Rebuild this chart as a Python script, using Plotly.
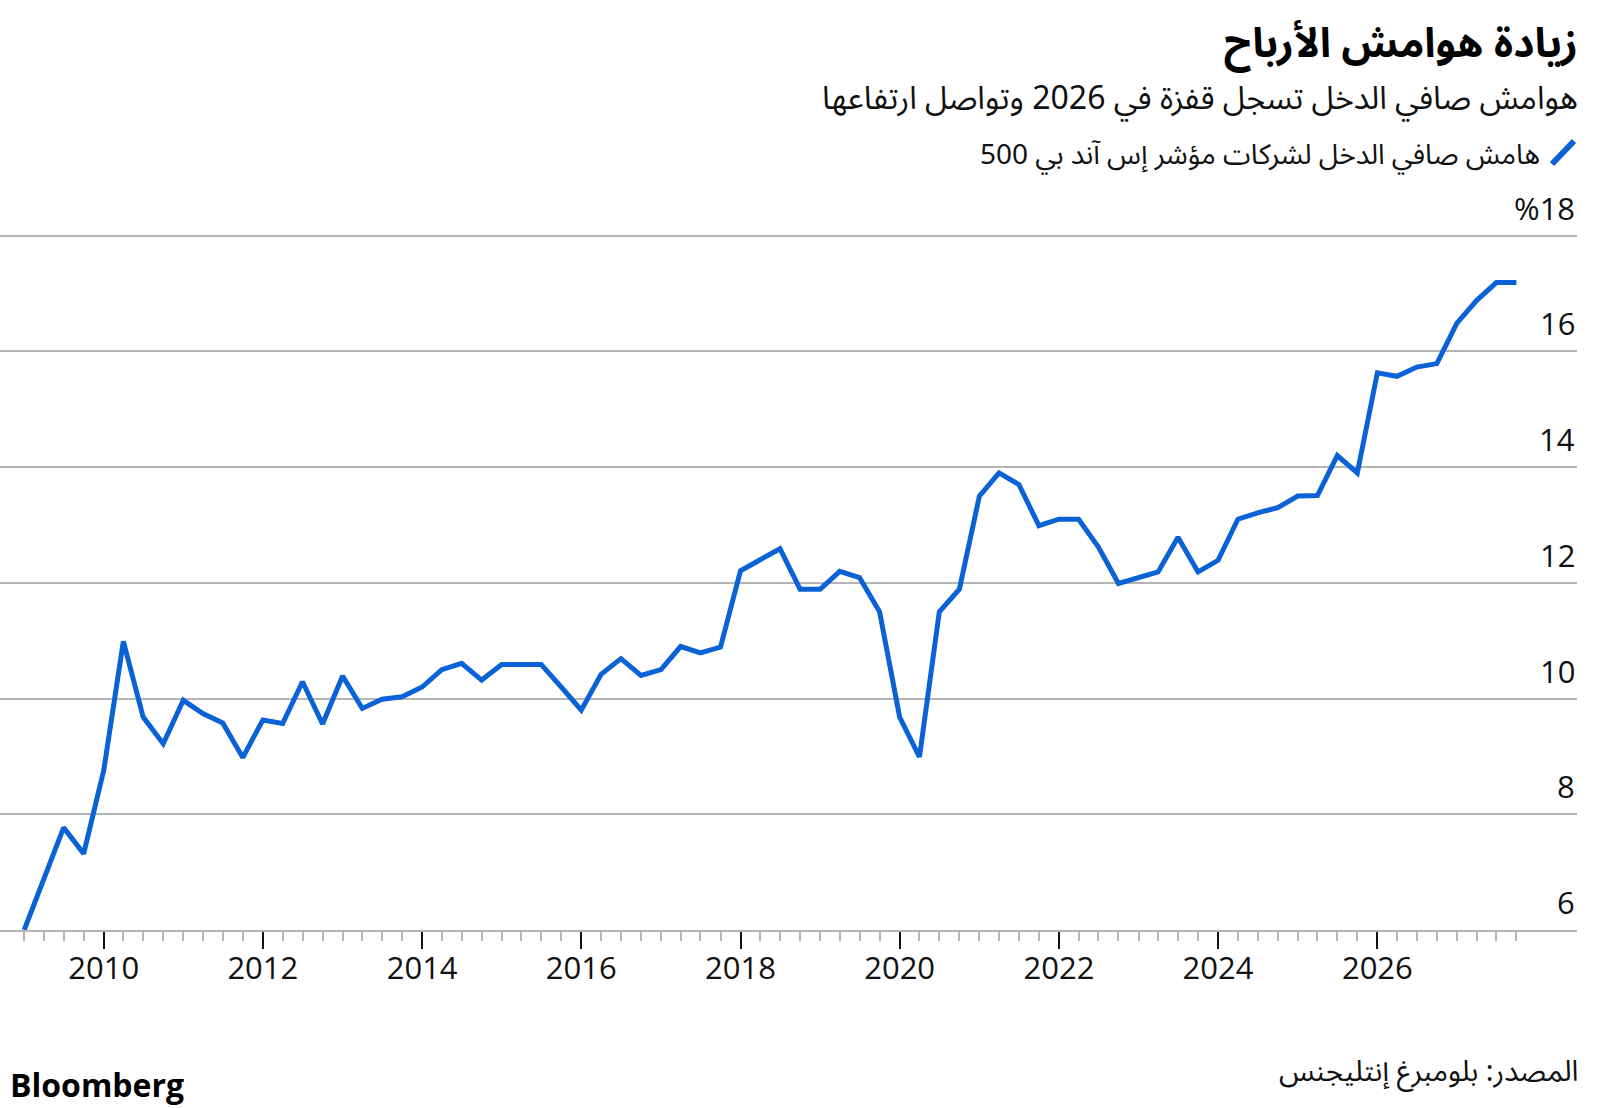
import pandas as pd
import plotly.graph_objects as go

# quarterly net income margin, S&P 500 (%), 2009 Q1 .. 2027 Q4
quarters = pd.date_range(start="2009-01-01", periods=76, freq="QS")
margin = [
    6.00, 6.89, 7.77, 7.32,
    8.76, 10.99, 9.68, 9.22,
    9.97, 9.74, 9.58, 8.98,
    9.63, 9.57, 10.29, 9.56,
    10.39, 9.83, 9.99, 10.03,
    10.20, 10.50, 10.61, 10.32,
    10.59, 10.59, 10.59, 10.20,
    9.80, 10.42, 10.69, 10.40,
    10.50, 10.90, 10.79, 10.89,
    12.21, 12.40, 12.59, 11.89,
    11.89, 12.20, 12.09, 11.50,
    9.68, 8.99, 11.50, 11.89,
    13.50, 13.90, 13.70, 12.99,
    13.10, 13.10, 12.62, 11.99,
    12.09, 12.19, 12.79, 12.19,
    12.39, 13.10, 13.21, 13.30,
    13.50, 13.51, 14.20, 13.90,
    15.63, 15.57, 15.73, 15.79,
    16.49, 16.88, 17.19, 17.19,
]

year_ticks = ["2010", "2012", "2014", "2016", "2018", "2020", "2022", "2024", "2026"]
y_ticks = [6, 8, 10, 12, 14, 16, 18]
y_labels = ["6", "8", "10", "12", "14", "16", "%18"]

title = "زيادة هوامش الأرباح"
subtitle = "هوامش صافي الدخل تسجل قفزة في 2026 وتواصل ارتفاعها"
legend_text = "هامش صافي الدخل لشركات مؤشر إس آند بي 500"
source = "المصدر: بلومبرغ إنتليجنس"

W, H = 1600, 1108
PLOT_L, PLOT_R, PLOT_T, PLOT_B = 0, 1577, 234, 930
BLUE = "#0b62d6"
GRID = "#b5b5b5"
LATIN = "Open Sans, Noto Sans, DejaVu Sans, sans-serif"
ARABIC = "Noto Sans Arabic, DejaVu Sans, sans-serif"


def px_x(x):
    return (x - PLOT_L) / (PLOT_R - PLOT_L)


def px_y(y):
    return (PLOT_B - y) / (PLOT_B - PLOT_T)


fig = go.Figure()
fig.add_trace(go.Scatter(
    x=quarters, y=margin, mode="lines",
    line=dict(color=BLUE, width=5), cliponaxis=False,
    hoverinfo="x+y", showlegend=False,
))

fig.update_layout(
    width=W, height=H,
    margin=dict(l=PLOT_L, r=W - PLOT_R, t=PLOT_T, b=H - PLOT_B, autoexpand=False),
    paper_bgcolor="white", plot_bgcolor="white",
    font=dict(family=LATIN, color="#111111"),
    xaxis=dict(
        type="date",
        range=["2008-09-12", "2028-07-05"],
        tickmode="array",
        tickvals=[f"{y}-01-01" for y in year_ticks],
        ticktext=year_ticks,
        ticks="outside", ticklen=17, tickwidth=2, tickcolor="#111111",
        ticklabelstandoff=-7,
        tickfont=dict(size=31, family=LATIN, color="#111111"),
        showline=True, linecolor=GRID, linewidth=2,
        showgrid=False, zeroline=False,
        minor=dict(tickmode="array", tickvals=list(quarters), ticks="outside",
                   ticklen=9, tickwidth=2, tickcolor=GRID, showgrid=False),
        automargin=False,
    ),
    yaxis=dict(
        range=[6, 18.03],
        side="right",
        tickmode="array", tickvals=y_ticks,
        showticklabels=False, ticks="",
        showgrid=True, gridcolor=GRID, gridwidth=2,
        zeroline=False, showline=False,
        automargin=False,
    ),
)

# y tick labels sit just above their gridlines, right-aligned
for v, lab in zip(y_ticks, y_labels):
    fig.add_annotation(text=lab, x=1, y=v, xref="paper", yref="y",
                       xanchor="right", yanchor="middle", yshift=28, showarrow=False,
                       font=dict(size=31, family=LATIN, color="#111111"))

fig.add_annotation(text=f"<b>{title}</b>", x=px_x(1580), y=px_y(44), xref="paper", yref="paper",
                   xanchor="right", yanchor="middle", showarrow=False,
                   font=dict(size=41, family=ARABIC, color="#000000"))
fig.add_annotation(text=subtitle, x=px_x(1580), y=px_y(99), xref="paper", yref="paper",
                   xanchor="right", yanchor="middle", showarrow=False,
                   font=dict(size=32, family=ARABIC, color="#111111"))
fig.add_annotation(text=legend_text, x=px_x(1542), y=px_y(155), xref="paper", yref="paper",
                   xanchor="right", yanchor="middle", showarrow=False,
                   font=dict(size=28, family=ARABIC, color="#111111"))
fig.add_shape(type="line", xref="paper", yref="paper",
              x0=px_x(1552), y0=px_y(164), x1=px_x(1574), y1=px_y(141),
              line=dict(color=BLUE, width=6))
fig.add_annotation(text=source, x=px_x(1580), y=px_y(1071), xref="paper", yref="paper",
                   xanchor="right", yanchor="middle", showarrow=False,
                   font=dict(size=29, family=ARABIC, color="#111111"))
fig.add_annotation(text="<b>Bloomberg</b>", x=px_x(8), y=px_y(1084), xref="paper", yref="paper",
                   xanchor="left", yanchor="middle", showarrow=False,
                   font=dict(size=32, family=LATIN, color="#000000"))

fig.write_html("out.html", config={"displayModeBar": False},
               post_script="document.body.style.margin='0px';")
